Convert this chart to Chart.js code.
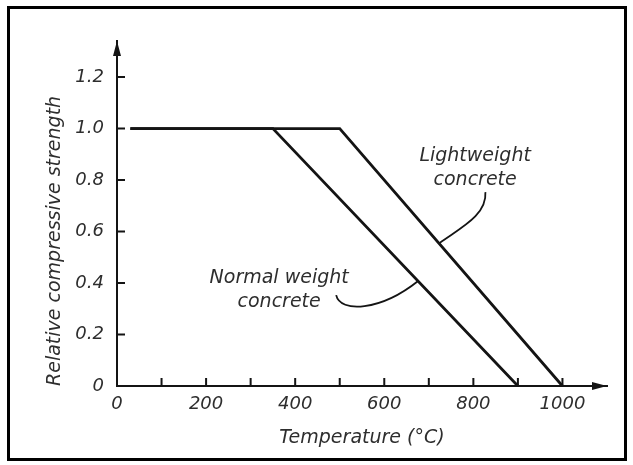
<!DOCTYPE html>
<html lang="en">
<head>
    <meta charset="UTF-8">
    <title>Relative compressive strength vs temperature</title>
    <style>
        body {
            margin: 0;
            background-color: #ffffff;
        }
        .frame {
            position: absolute;
            left: 7px;
            top: 6px;
            width: 614px;
            height: 449px;
            border: 3px solid #000000;
        }
        #chart {
            position: absolute;
            left: 0;
            top: 0;
        }
    </style>
</head>
<body>
    <div class="frame"></div>
    <canvas id="chart" width="633" height="465"></canvas>
    <script src="https://cdn.jsdelivr.net/npm/chart.js@4/dist/chart.umd.min.js"></script>
    <script>
        // data
        const normalTemp = [30, 350, 900];
        const normalStrength = [1.0, 1.0, 0];
        const lightTemp = [30, 500, 1000];
        const lightStrength = [1.0, 1.0, 0];

        const xTicks = [0, 100, 200, 300, 400, 500, 600, 700, 800, 900, 1000];
        const yTicks = [0, 0.2, 0.4, 0.6, 0.8, 1.0, 1.2];
        const yTickLabels = ['0', '0.2', '0.4', '0.6', '0.8', '1.0', '1.2'];

        // annotations (data coords)
        const noteText = [['Lightweight', 'concrete'], ['Normal weight', 'concrete']];
        const noteAt = [[804, 0.845], [364, 0.371]];
        const leaders = [
            [[827, 0.753], [831, 0.664], [771, 0.614], [724, 0.555]],
            [[492, 0.353], [501, 0.283], [591, 0.291], [676, 0.408]]
        ];

        const ink = '#141414';
        const textInk = '#2e2e2e';
        const face = '"DejaVu Sans", sans-serif';

        function pts(xs, ys) {
            return xs.map((v, i) => ({ x: v, y: ys[i] }));
        }

        const sketch = {
            id: 'sketch',
            afterDraw(chart) {
                const { ctx, chartArea: a, scales: { x, y } } = chart;
                ctx.save();
                ctx.strokeStyle = ink;
                ctx.fillStyle = ink;
                ctx.lineWidth = 2;

                // tick marks pointing inward
                ctx.beginPath();
                xTicks.forEach(v => {
                    if (v === 0) return;
                    const px = x.getPixelForValue(v);
                    ctx.moveTo(px, a.bottom);
                    ctx.lineTo(px, a.bottom - 8);
                });
                yTicks.forEach(v => {
                    if (v === 0) return;
                    const py = y.getPixelForValue(v);
                    ctx.moveTo(a.left, py);
                    ctx.lineTo(a.left + 8, py);
                });
                ctx.stroke();

                // arrow heads
                ctx.beginPath();
                ctx.moveTo(a.left, a.top);
                ctx.lineTo(a.left - 4, a.top + 15);
                ctx.lineTo(a.left + 4, a.top + 15);
                ctx.closePath();
                ctx.moveTo(a.right, a.bottom);
                ctx.lineTo(a.right - 15, a.bottom - 4);
                ctx.lineTo(a.right - 15, a.bottom + 4);
                ctx.closePath();
                ctx.fill();

                // leader curves
                ctx.lineWidth = 1.8;
                leaders.forEach(c => {
                    const p = c.map(q => [x.getPixelForValue(q[0]), y.getPixelForValue(q[1])]);
                    ctx.beginPath();
                    ctx.moveTo(p[0][0], p[0][1]);
                    ctx.bezierCurveTo(p[1][0], p[1][1], p[2][0], p[2][1], p[3][0], p[3][1]);
                    ctx.stroke();
                });

                // labels
                ctx.fillStyle = textInk;
                ctx.font = 'italic 19px ' + face;
                ctx.textAlign = 'center';
                ctx.textBaseline = 'middle';
                noteText.forEach((lines, i) => {
                    const cx = x.getPixelForValue(noteAt[i][0]);
                    const cy = y.getPixelForValue(noteAt[i][1]);
                    lines.forEach((t, j) => {
                        ctx.fillText(t, cx, cy + (j - (lines.length - 1) / 2) * 24);
                    });
                });
                ctx.restore();
            }
        };

        new Chart(document.getElementById('chart'), {
            type: 'line',
            data: {
                datasets: [
                    {
                        label: 'Normal weight concrete',
                        data: pts(normalTemp, normalStrength),
                        borderColor: ink,
                        borderWidth: 2.8,
                        pointRadius: 0,
                        tension: 0,
                        clip: false
                    },
                    {
                        label: 'Lightweight concrete',
                        data: pts(lightTemp, lightStrength),
                        borderColor: ink,
                        borderWidth: 2.8,
                        pointRadius: 0,
                        tension: 0,
                        clip: false
                    }
                ]
            },
            options: {
                responsive: false,
                animation: false,
                layout: {
                    padding: { left: 0, right: 26, top: 41, bottom: 0 }
                },
                plugins: {
                    legend: { display: false },
                    tooltip: { enabled: false }
                },
                scales: {
                    x: {
                        type: 'linear',
                        min: 0,
                        max: 1100,
                        grid: { display: false },
                        border: { display: true, color: ink, width: 2 },
                        afterBuildTicks: s => { s.ticks = xTicks.map(v => ({ value: v })); },
                        afterFit: s => { s.height = 79; },
                        ticks: {
                            autoSkip: false,
                            maxRotation: 0,
                            minRotation: 0,
                            padding: 0,
                            color: textInk,
                            font: { family: face, size: 18, style: 'italic' },
                            callback: v => (v % 200 === 0 ? String(v) : '')
                        },
                        title: {
                            display: true,
                            text: 'Temperature (°C)',
                            color: textInk,
                            font: { family: face, size: 19, style: 'italic' },
                            padding: { top: 0, bottom: 16 }
                        }
                    },
                    y: {
                        type: 'linear',
                        min: 0,
                        max: 1.34,
                        grid: { display: false },
                        border: { display: true, color: ink, width: 2 },
                        afterBuildTicks: s => { s.ticks = yTicks.map(v => ({ value: v })); },
                        afterFit: s => { s.width = 117; },
                        ticks: {
                            padding: 5,
                            color: textInk,
                            font: { family: face, size: 18, style: 'italic' },
                            callback: (v, i) => yTickLabels[i]
                        },
                        title: {
                            display: true,
                            text: 'Relative compressive strength',
                            align: 'start',
                            color: textInk,
                            font: { family: face, size: 19, style: 'italic' },
                            padding: { top: 44, bottom: 0 }
                        }
                    }
                }
            },
            plugins: [sketch]
        });
    </script>
</body>
</html>
